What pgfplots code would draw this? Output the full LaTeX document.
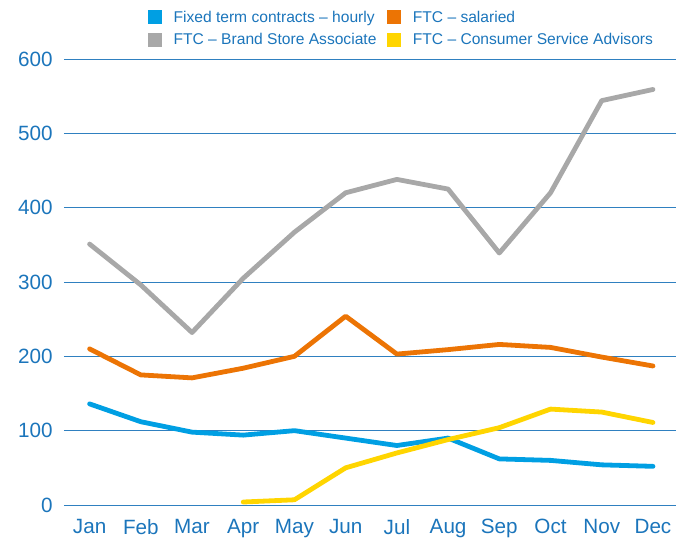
\documentclass[border=0pt]{standalone}
\usepackage{fontspec}
\setmainfont{Liberation Sans}
\usepackage{pgfplots}
\pgfplotsset{compat=1.18}
\usetikzlibrary{calc}
\definecolor{txtblue}{HTML}{1B75BB}
\definecolor{gridblue}{HTML}{2F80C0}
\definecolor{cblue}{HTML}{009FE3}
\definecolor{corange}{HTML}{EC7404}
\definecolor{cgray}{HTML}{A8A8A8}
\definecolor{cyellow}{HTML}{FFD500}
\begin{document}
\begin{tikzpicture}
\begin{axis}[
    name=ax,
    scale only axis,
    width=459pt, height=334.5pt,
    xmin=-0.5, xmax=11.45,
    ymin=0, ymax=600,
    xtick={0,...,11},
    xticklabels={Jan,Feb,Mar,Apr,May,Jun,Jul,Aug,Sep,Oct,Nov,Dec},
    ytick={0,100,...,600},
    ymajorgrids,
    grid style={gridblue, line width=0.6pt},
    axis line style={draw=none},
    major tick length=0pt,
    tick label style={font=\fontsize{15.5}{18}\selectfont, text=txtblue},
    /pgf/number format/assume math mode=true,
    xticklabel style={yshift=-7pt},
    yticklabel style={xshift=-5pt},
    clip=false,
    legend columns=2,
    legend style={at={(0.137,1.114)}, anchor=north west, draw=none, fill=none,
        inner sep=0pt, outer sep=0pt,
        font=\fontsize{11.7}{13}\selectfont, text=txtblue,
        /tikz/every even column/.append style={column sep=6pt},
        row sep=3pt},
    legend image code/.code={\fill[#1, draw=none] (0pt,-5.25pt) rectangle (10.5pt,5.25pt);
        \path (15.5pt,0pt);},
    legend cell align=left,
    every axis plot/.append style={line width=3.6pt, line join=round, line cap=round},
]
\addplot[cblue] coordinates {(0,136)(1,112)(2,98)(3,94)(4,100)(5,90)(6,80)(7,90)(8,62)(9,60)(10,54)(11,52)};
\addplot[corange] coordinates {(0,210)(1,175)(2,171)(3,184)(4,200)(5,254)(6,203)(7,209)(8,216)(9,212)(10,199)(11,187)};
\addplot[cgray] coordinates {(0,351)(1,296)(2,232)(3,305)(4,367)(5,420)(6,438)(7,425)(8,339)(9,420)(10,544)(11,559)};
\addplot[cyellow] coordinates {(3,4)(4,7)(5,50)(6,70)(7,88)(8,104)(9,129)(10,125)(11,111)};
\legend{Fixed term contracts -- hourly, FTC -- salaried, FTC -- Brand Store Associate, FTC -- Consumer Service Advisors}
\end{axis}
\pgfresetboundingbox
\path[use as bounding box] ($(ax.south west)+(-48pt,-26pt)$) rectangle ($(ax.north east)+(12.75pt,44.25pt)$);
\end{tikzpicture}
\end{document}
